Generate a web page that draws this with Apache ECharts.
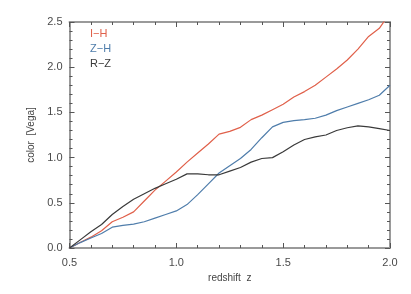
<!DOCTYPE html>
<html><head><meta charset="utf-8">
<script src="https://cdn.jsdelivr.net/npm/echarts@6/dist/echarts.min.js"></script>
<style>html,body{margin:0;padding:0;background:#fff}#c{width:411px;height:294px}</style>
</head><body><div id="c"></div>
<script>
var redshift = [0.5,0.55,0.6,0.65,0.7,0.75,0.8,0.85,0.9,0.95,1.0,1.05,1.1,1.15,1.2,1.25,1.3,1.35,1.4,1.45,1.5,1.55,1.6,1.65,1.7,1.75,1.8,1.85,1.9,1.95,2.0];
var IH = [0,0.06,0.12,0.19,0.29,0.34,0.40,0.52,0.64,0.74,0.84,0.95,1.05,1.15,1.26,1.29,1.335,1.42,1.47,1.53,1.59,1.67,1.73,1.80,1.89,1.98,2.08,2.20,2.34,2.43,2.60];
var ZH = [0,0.06,0.11,0.16,0.23,0.25,0.265,0.29,0.33,0.37,0.41,0.48,0.59,0.71,0.83,0.91,0.99,1.09,1.22,1.34,1.39,1.41,1.42,1.435,1.47,1.52,1.56,1.60,1.64,1.69,1.80];
var RZ = [0,0.09,0.18,0.26,0.37,0.46,0.54,0.60,0.66,0.71,0.76,0.82,0.82,0.81,0.81,0.85,0.89,0.95,0.99,1.00,1.065,1.14,1.20,1.23,1.25,1.30,1.33,1.35,1.34,1.32,1.30];
var seriesNames = ['I\u2212H','Z\u2212H','R\u2212Z'];
var seriesColors = ['#e0604a','#4f7dab','#3a3a3a'];

function pairs(v){ return redshift.map(function(z,i){return [z,v[i]];}); }
var font = 'Liberation Sans';
var axisCol = '#9a9a9a';
function xa(show, pos){
  return {type:'value', min:0.5, max:2.0, interval:0.5, position:pos,
    axisLine:{show:true, onZero:false, lineStyle:{color:axisCol, width:2}},
    axisTick:{show:true, inside:true, length:5, lineStyle:{color:'#555', width:1}},
    minorTick:{show:true, splitNumber:5, length:3, lineStyle:{color:'#555', width:1}},
    splitLine:{show:false},
    axisLabel:{show:show, color:'#4a4a4a', fontFamily:font, fontSize:11, margin:9, formatter:function(v){return v.toFixed(1);}},
    name: show ? 'redshift  z' : '', nameLocation:'middle', nameGap:23,
    nameTextStyle:{color:'#444', fontFamily:font, fontSize:10}
  };
}
function ya(show, pos){
  return {type:'value', min:0, max:2.5, interval:0.5, position:pos,
    axisLine:{show:true, onZero:false, lineStyle:{color:axisCol, width:2}},
    axisTick:{show:true, inside:true, length:5, lineStyle:{color:'#555', width:1}},
    minorTick:{show:true, splitNumber:5, length:3, lineStyle:{color:'#555', width:1}},
    splitLine:{show:false},
    axisLabel:{show:show, color:'#4a4a4a', fontFamily:font, fontSize:11, margin:7, formatter:function(v){return v.toFixed(1);}},
    name: show ? 'color  [Vega]' : '', nameLocation:'middle', nameGap:30, nameRotate:90,
    nameTextStyle:{color:'#444', fontFamily:font, fontSize:10}
  };
}
var chart = echarts.init(document.getElementById('c'), null, {renderer:'canvas'});
var data = [IH, ZH, RZ];
chart.setOption({
  animation:false,
  backgroundColor:'#fff',
  grid:{left:69.5, right:21, top:22, bottom:46, containLabel:false},
  xAxis:[xa(true,'bottom'), xa(false,'top')],
  yAxis:[ya(true,'left'), ya(false,'right')],
  series: data.map(function(d,i){
    return {type:'line', name:seriesNames[i], data:pairs(d), showSymbol:false, symbol:'none',
      xAxisIndex:0, yAxisIndex:0, clip:true,
      lineStyle:{color:seriesColors[i], width:1.2}, z:5};
  }),
  graphic: seriesNames.map(function(n,i){
    return {type:'text', left:90, top:28+i*15, style:{text:n, fill:seriesColors[i], font:'11px "Liberation Sans"'}};
  })
});
</script></body></html>
